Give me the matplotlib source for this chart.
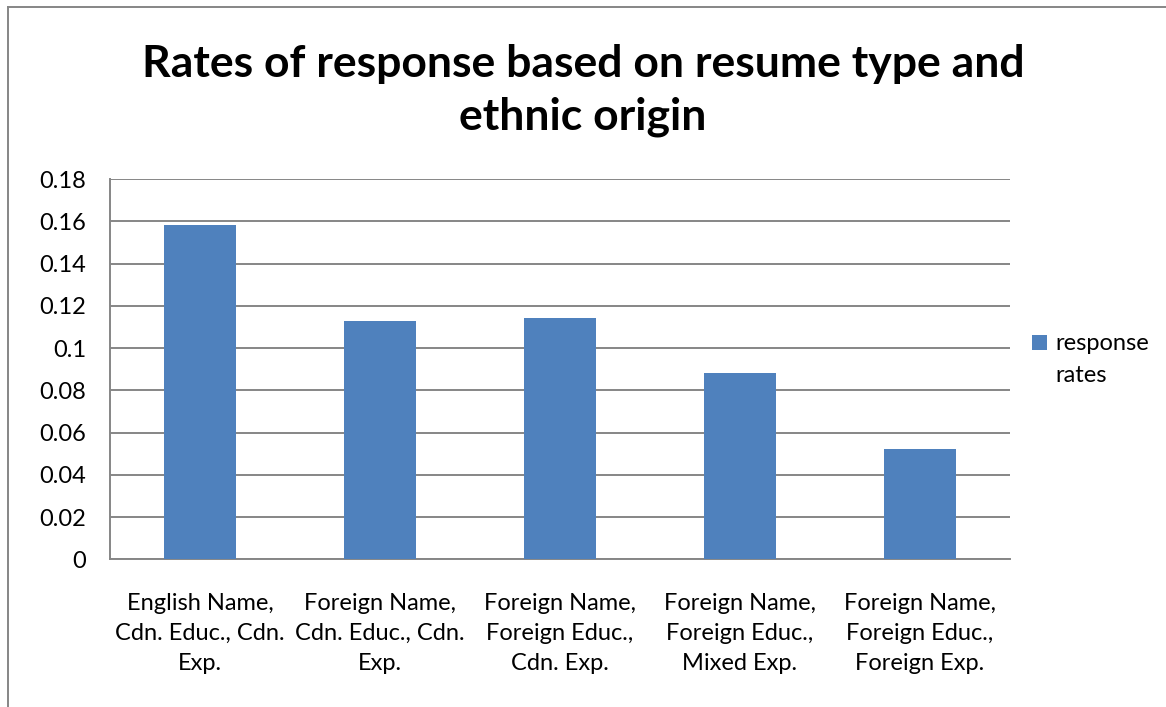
import numpy as np
import matplotlib
import matplotlib.pyplot as plt
from matplotlib.lines import Line2D
from matplotlib.patches import Rectangle

matplotlib.use('Agg')

# Response rates by resume type
categories = [
    "English Name,\nCdn. Educ., Cdn.\nExp.",
    "Foreign Name,\nCdn. Educ., Cdn.\nExp.",
    "Foreign Name,\nForeign Educ.,\nCdn. Exp.",
    "Foreign Name,\nForeign Educ.,\nMixed Exp.",
    "Foreign Name,\nForeign Educ.,\nForeign Exp.",
]
response_rates = [0.158, 0.113, 0.114, 0.088, 0.052]
y_ticks = [0, 0.02, 0.04, 0.06, 0.08, 0.1, 0.12, 0.14, 0.16, 0.18]
y_tick_labels = ["0", "0.02", "0.04", "0.06", "0.08", "0.1", "0.12", "0.14", "0.16", "0.18"]
series_name = "response\nrates"

bar_color = '#4F81BD'
grid_color = '#868686'

plt.rcParams['font.family'] = ['Lato', 'DejaVu Sans']

fig = plt.figure(figsize=(11.66, 7.07), dpi=100)
ax = fig.add_axes([0.0943, 0.2089, 0.7719, 0.5379])

x = np.arange(len(categories))
ax.bar(x, response_rates, width=0.4, color=bar_color, zorder=3)

ax.set_xlim(-0.5, len(categories) - 0.5)
ax.set_ylim(0, 0.18)
ax.set_yticks(y_ticks)
ax.set_yticklabels(y_tick_labels, fontsize=17)
ax.set_xticks(x)
ax.set_xticklabels(categories, fontsize=17, linespacing=1.55)
ax.tick_params(axis='both', length=0, colors='black')
ax.tick_params(axis='y', pad=17)
ax.tick_params(axis='x', pad=24)

ax.yaxis.grid(True, color=grid_color, lw=1.4, zorder=0)
for side in ['top', 'right']:
    ax.spines[side].set_visible(False)
for side in ['left', 'bottom']:
    ax.spines[side].set_color(grid_color)
    ax.spines[side].set_linewidth(1.4)

# Title
fig.text(0.5, 0.872, "Rates of response based on resume type and\nethnic origin",
         ha='center', va='center', fontsize=32, fontweight='bold', linespacing=1.38)

# Legend on the right: square key beside the first line of the series name
fig.add_artist(Rectangle((0.8851, 0.505), 0.0129, 0.021, facecolor=bar_color,
                         edgecolor='none', transform=fig.transFigure))
fig.text(0.9048, 0.529, series_name, ha='left', va='top', fontsize=17,
         linespacing=1.65)

# Chart area border (top and left edges)
fig.add_artist(Line2D([0.0069, 0.0069], [0.0, 0.990], color=grid_color, lw=1.4,
                      transform=fig.transFigure))
fig.add_artist(Line2D([0.0069, 1.0], [0.990, 0.990], color=grid_color, lw=1.4,
                      transform=fig.transFigure))

fig.savefig('out.png', dpi=100)
